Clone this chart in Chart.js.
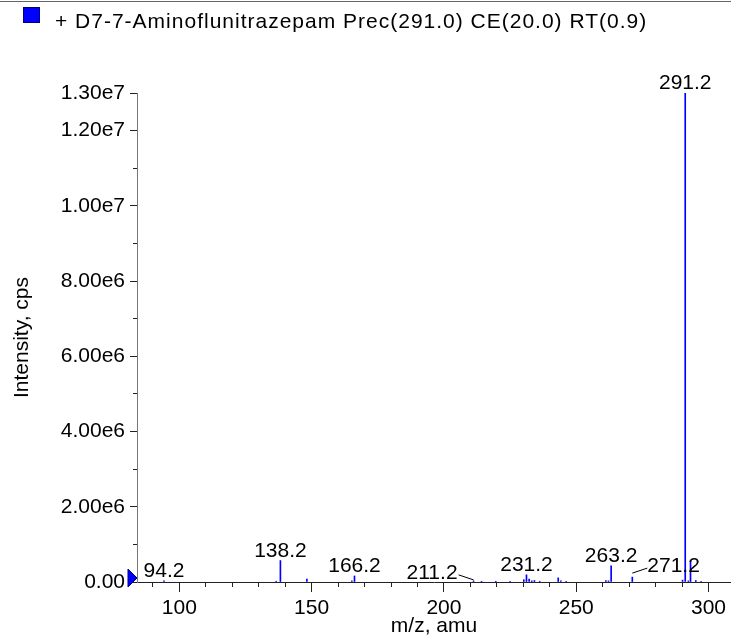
<!DOCTYPE html>
<html>
<head>
<meta charset="utf-8">
<script src="https://cdn.jsdelivr.net/npm/chart.js@4.4.1/dist/chart.umd.min.js"></script>
<style>
  html, body { margin: 0; padding: 0; background: #fff; }
  #wrap { position: relative; width: 731px; height: 639px; overflow: hidden; }
  #topline { position: absolute; left: 0; top: 1px; width: 731px; height: 0; border-top: 1px solid #666; }
  #box { position: absolute; left: 23px; top: 7px; width: 15px; height: 14px; background: #0000ff; border: 1px solid #000080; }
  #head { position: absolute; left: 55px; top: 9px; font: 21px "Liberation Sans", Arial, sans-serif; letter-spacing: 1px; color: #000; white-space: nowrap; }
  canvas { position: absolute; left: 0; top: 0; }
</style>
</head>
<body>
<div id="wrap">
  <canvas id="myChart" width="731" height="639"></canvas>
  <div id="topline"></div>
  <div id="box"></div>
  <div id="head">+ D7-7-Aminoflunitrazepam Prec(291.0) CE(20.0) RT(0.9)</div>
</div>
<script>
'use strict';

// spectrum peaks (m/z, intensity in cps)
let peakMz = [94.2, 136.6, 138.2, 148.2, 165.2, 166.2, 211.2, 214.2, 219.6, 225.0,
  230.2, 231.2, 232.2, 233.2, 234.2, 236.2, 243.2, 244.2, 246.2,
  261.2, 262.2, 263.2, 271.2, 290.2, 291.2, 292.4, 293.2, 295.2, 297.2];
let peakIntensity = [30000, 20000, 570000, 80000, 30000, 160000, 30000, 20000, 20000, 20000,
  60000, 190000, 80000, 30000, 40000, 20000, 110000, 30000, 20000,
  40000, 30000, 430000, 130000, 50000, 13000000, 30000, 560000, 40000, 20000];

// peaks that carry a text label
let labelMz = [94.2, 138.2, 166.2, 211.2, 231.2, 263.2, 271.2, 291.2];

let yLabelValues = [0, 2000000, 4000000, 6000000, 8000000, 10000000, 12000000, 13000000];
let xLabelValues = [100, 150, 200, 250, 300];

const FONT = '"Liberation Sans", Arial, sans-serif';
const fnt = { family: FONT, size: 21 };

function fmtY(v){
  if (v === 0) return '0.00';
  return v.toExponential(2).replace('e+', 'e');
}

// label tweaks: leader lines for crowded labels
const leaders = {
  211.2: { side: 'left', gap: 15, rise: 6 },
  271.2: { side: 'right', gap: 15, rise: 6 }
};

const peakLabels = {
  id: 'peakLabels',
  afterDatasetsDraw(chart){
    const ctx = chart.ctx;
    const xs = chart.scales.x;
    const ys = chart.scales.y;
    ctx.save();
    ctx.font = '21px ' + FONT;
    ctx.fillStyle = '#000';
    ctx.strokeStyle = '#000';
    ctx.lineWidth = 1;
    ctx.textBaseline = 'alphabetic';
    for (let i = 0; i < labelMz.length; i++){
      let m = labelMz[i];
      let k = peakMz.indexOf(m);
      let px = xs.getPixelForValue(m);
      let py = ys.getPixelForValue(peakIntensity[k]);
      let txt = m.toFixed(1);
      let l = leaders[m];
      if (l){
        let ty = py - l.rise;
        ctx.beginPath();
        if (l.side === 'left'){
          ctx.moveTo(px, py - 1);
          ctx.lineTo(px - l.gap, ty);
          ctx.stroke();
          ctx.textAlign = 'right';
          ctx.fillText(txt, px - l.gap - 1, ty + 4);
        } else {
          ctx.moveTo(px, py - 4);
          ctx.lineTo(px + l.gap, ty - 3);
          ctx.stroke();
          ctx.textAlign = 'left';
          ctx.fillText(txt, px + l.gap, ty + 1);
        }
      } else {
        ctx.textAlign = 'center';
        ctx.fillText(txt, px, py - 4);
      }
    }
    // zero marker on the y axis
    let y0 = ys.getPixelForValue(0) - 4;
    let xl = chart.chartArea.left;
    ctx.fillStyle = '#0000ff';
    ctx.beginPath();
    ctx.moveTo(xl - 9, y0 - 9);
    ctx.lineTo(xl, y0);
    ctx.lineTo(xl - 9, y0 + 9);
    ctx.closePath();
    ctx.fill();
    ctx.strokeStyle = '#000080';
    ctx.stroke();
    ctx.restore();
  }
};

let points = [];
for (let i = 0; i < peakMz.length; i++){
  points.push({ x: peakMz[i], y: peakIntensity[i] });
}

let ctx = document.getElementById('myChart').getContext('2d');
let myChart = new Chart(ctx, {
  type: 'bar',
  data: {
    datasets: [{
      label: 'D7-7-Aminoflunitrazepam',
      data: points,
      backgroundColor: '#0000ff',
      borderWidth: 0,
      barThickness: 1,
      grouped: false
    }]
  },
  options: {
    responsive: false,
    animation: false,
    layout: { padding: { top: 93, right: 0, bottom: 0, left: 0 } },
    plugins: {
      legend: { display: false },
      tooltip: { enabled: false }
    },
    scales: {
      x: {
        type: 'linear',
        offset: false,
        min: 84,
        max: 308.5,
        afterBuildTicks: s => { s.ticks = s.ticks.filter(t => t.value % 10 === 0); },
        afterFit: s => { s.height = 57; },
        ticks: {
          stepSize: 10,
          includeBounds: false,
          autoSkip: false,
          maxRotation: 0,
          padding: 4,
          color: '#000',
          font: fnt,
          callback: v => xLabelValues.includes(v) ? String(v) : ''
        },
        grid: {
          offset: false,
          drawOnChartArea: false,
          tickLength: 10,
          tickColor: '#222',
          tickBorderDash: c => (c.tick && xLabelValues.includes(c.tick.value)) ? [] : [4, 100]
        },
        border: { color: '#222', width: 1 },
        title: { display: true, text: 'm/z, amu', color: '#000', font: fnt, padding: { top: 0, bottom: 0 } }
      },
      y: {
        min: 0,
        max: 13000000,
        afterFit: s => { s.width = 137; },
        ticks: {
          stepSize: 1000000,
          autoSkip: false,
          padding: 5,
          color: '#000',
          font: fnt,
          callback: v => yLabelValues.includes(v) ? fmtY(v) : ''
        },
        grid: {
          drawOnChartArea: false,
          tickLength: 7,
          tickColor: '#222',
          tickBorderDash: c => (c.tick && yLabelValues.includes(c.tick.value)) ? [] : [0, 3, 4, 0]
        },
        border: { color: '#777', width: 1 },
        title: { display: true, text: 'Intensity, cps', color: '#000', font: fnt, padding: { top: 10, bottom: 0 } }
      }
    }
  },
  plugins: [peakLabels]
});
</script>
</body>
</html>
